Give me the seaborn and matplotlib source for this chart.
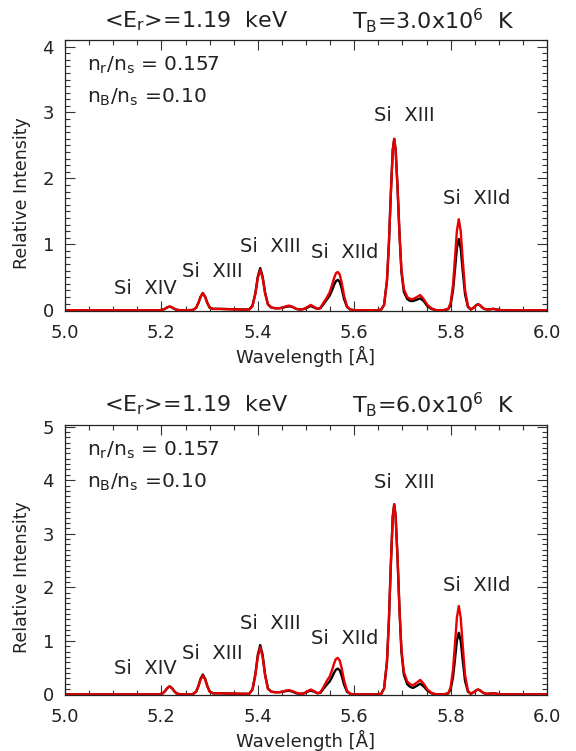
import matplotlib
matplotlib.use("Agg")
import matplotlib.pyplot as plt
import seaborn as sns
import pandas as pd
from matplotlib.ticker import MultipleLocator, FormatStrFormatter

# ---------------- data ----------------
wavelength = [
    5.000, 5.100, 5.190,
    5.196, 5.203, 5.208, 5.212, 5.217, 5.222, 5.226, 5.231, 5.238,
    5.250,
    5.265, 5.272, 5.277, 5.281, 5.286, 5.291, 5.295, 5.300, 5.307,
    5.320, 5.345, 5.370,
    5.382, 5.389, 5.395, 5.400, 5.405, 5.410, 5.415, 5.421, 5.428,
    5.436, 5.445, 5.452, 5.458, 5.465, 5.472, 5.480, 5.488, 5.496, 5.503,
    5.510, 5.517, 5.524, 5.530, 5.536, 5.543, 5.549, 5.554, 5.558, 5.562,
    5.566, 5.570, 5.574, 5.579, 5.585, 5.592, 5.600,
    5.625, 5.650,
    5.656, 5.662, 5.668, 5.672, 5.676, 5.680, 5.683, 5.686, 5.690, 5.694,
    5.698, 5.703, 5.710, 5.716, 5.722, 5.730, 5.737, 5.744, 5.752, 5.760, 5.770,
    5.785,
    5.795, 5.800, 5.805, 5.809, 5.813, 5.817, 5.821, 5.825, 5.830, 5.836, 5.842,
    5.849, 5.853, 5.857, 5.861, 5.865, 5.870, 5.876, 5.883, 5.889, 5.896, 5.905,
    5.950, 6.000,
]

top_black = [
    0, 0, 0,
    0.0, 0.007, 0.024, 0.042, 0.055, 0.042, 0.024, 0.007, 0.0,
    0,
    0.003, 0.035, 0.115, 0.20, 0.26, 0.20, 0.115, 0.04, 0.02,
    0.02, 0.015, 0.01,
    0.01, 0.07, 0.26, 0.51, 0.64, 0.51, 0.27, 0.09, 0.04,
    0.03, 0.03, 0.04, 0.05, 0.06, 0.05, 0.02, 0.01, 0.02, 0.04,
    0.065, 0.04, 0.02, 0.03, 0.09, 0.16, 0.22, 0.30, 0.38, 0.44,
    0.46, 0.43, 0.33, 0.17, 0.05, 0.01, 0.0,
    0, 0,
    0.01, 0.08, 0.45, 1.01, 1.77, 2.43, 2.60, 2.43, 1.85, 1.15,
    0.58, 0.28, 0.17, 0.14, 0.14, 0.16, 0.18, 0.14, 0.06, 0.02, 0.0,
    0,
    0.015, 0.08, 0.30, 0.61, 0.94, 1.08, 0.94, 0.61, 0.24, 0.05, 0.01,
    0.045, 0.075, 0.09, 0.075, 0.045, 0.02, 0.01, 0.015, 0.02, 0.01, 0.0,
    0, 0,
]

top_red = [
    0, 0, 0,
    0.0, 0.007, 0.025, 0.044, 0.058, 0.044, 0.025, 0.007, 0.0,
    0,
    0.003, 0.035, 0.115, 0.20, 0.26, 0.20, 0.115, 0.04, 0.02,
    0.02, 0.015, 0.01,
    0.01, 0.06, 0.25, 0.49, 0.61, 0.49, 0.26, 0.09, 0.04,
    0.03, 0.03, 0.04, 0.06, 0.07, 0.05, 0.02, 0.01, 0.02, 0.05,
    0.08, 0.05, 0.02, 0.04, 0.11, 0.19, 0.27, 0.38, 0.48, 0.56,
    0.58, 0.54, 0.42, 0.22, 0.06, 0.01, 0.0,
    0, 0,
    0.01, 0.08, 0.45, 1.01, 1.77, 2.43, 2.60, 2.43, 1.85, 1.15,
    0.62, 0.32, 0.20, 0.17, 0.17, 0.20, 0.23, 0.17, 0.08, 0.03, 0.0,
    0,
    0.02, 0.11, 0.38, 0.78, 1.20, 1.38, 1.20, 0.78, 0.31, 0.06, 0.01,
    0.045, 0.075, 0.09, 0.075, 0.045, 0.02, 0.01, 0.015, 0.02, 0.01, 0.0,
    0, 0,
]

bot_black = [
    0, 0, 0,
    0.002, 0.02, 0.066, 0.115, 0.15, 0.115, 0.066, 0.02, 0.002,
    0,
    0.004, 0.05, 0.16, 0.285, 0.37, 0.285, 0.165, 0.055, 0.02,
    0.02, 0.015, 0.01,
    0.01, 0.09, 0.38, 0.74, 0.92, 0.74, 0.38, 0.11, 0.05,
    0.04, 0.04, 0.05, 0.06, 0.07, 0.05, 0.02, 0.01, 0.02, 0.05,
    0.07, 0.05, 0.02, 0.03, 0.10, 0.18, 0.24, 0.32, 0.40, 0.46,
    0.48, 0.45, 0.35, 0.18, 0.05, 0.01, 0.0,
    0, 0,
    0.01, 0.11, 0.61, 1.38, 2.42, 3.32, 3.55, 3.32, 2.53, 1.57,
    0.79, 0.37, 0.19, 0.14, 0.12, 0.16, 0.20, 0.15, 0.07, 0.02, 0.0,
    0,
    0.015, 0.09, 0.32, 0.65, 1.00, 1.15, 1.00, 0.65, 0.25, 0.05, 0.01,
    0.045, 0.075, 0.09, 0.075, 0.045, 0.02, 0.01, 0.015, 0.02, 0.01, 0.0,
    0, 0,
]

bot_red = [
    0, 0, 0,
    0.002, 0.02, 0.066, 0.115, 0.15, 0.115, 0.066, 0.02, 0.002,
    0,
    0.004, 0.047, 0.154, 0.27, 0.35, 0.27, 0.155, 0.05, 0.02,
    0.02, 0.015, 0.01,
    0.01, 0.09, 0.36, 0.70, 0.88, 0.70, 0.36, 0.10, 0.05,
    0.04, 0.04, 0.05, 0.07, 0.08, 0.06, 0.03, 0.01, 0.02, 0.06,
    0.09, 0.06, 0.02, 0.04, 0.13, 0.25, 0.33, 0.45, 0.57, 0.66,
    0.68, 0.63, 0.49, 0.26, 0.07, 0.01, 0.0,
    0, 0,
    0.01, 0.11, 0.61, 1.38, 2.42, 3.32, 3.55, 3.32, 2.53, 1.57,
    0.85, 0.42, 0.24, 0.19, 0.17, 0.22, 0.27, 0.20, 0.09, 0.03, 0.0,
    0,
    0.02, 0.13, 0.46, 0.93, 1.43, 1.65, 1.43, 0.93, 0.36, 0.07, 0.01,
    0.045, 0.075, 0.09, 0.075, 0.045, 0.02, 0.01, 0.015, 0.02, 0.01, 0.0,
    0, 0,
]

line_labels = ["Si  XIV", "Si  XIII", "Si  XIII", "Si  XIId", "Si  XIII", "Si  XIId"]
temperatures = ["3.0", "6.0"]
energy_label = r"<E$_\mathrm{r}$>=1.19  keV"
ratio_r = r"n$_\mathrm{r}$/n$_\mathrm{s}$ = 0.157"
ratio_b = r"n$_\mathrm{B}$/n$_\mathrm{s}$ =0.10"

# ---------------- layout (not data) ----------------
label_x = [5.166, 5.305, 5.425, 5.581, 5.705, 5.855]
label_y_top = [0.33, 0.58, 0.97, 0.88, 2.95, 1.69]
label_y_bot = [0.48, 0.76, 1.32, 1.05, 3.95, 2.04]

sns.set_style("ticks")
plt.rcParams["font.family"] = ["DejaVu Sans"]
plt.rcParams["mathtext.fontset"] = "dejavusans"

W, H = 576, 751
fig = plt.figure(figsize=(W / 100, H / 100), dpi=100)
txt = "#222222"

panels = [
    dict(bottom=311, top=40, black=top_black, red=top_red, ylim=(-0.012, 4.1),
         ly=label_y_top, temp=temperatures[0], title_y=21),
    dict(bottom=695, top=425, black=bot_black, red=bot_red, ylim=(-0.012, 5.03),
         ly=label_y_bot, temp=temperatures[1], title_y=405),
]

for p in panels:
    left_px, right_px = 65, 547
    ax = fig.add_axes([left_px / W, 1 - p["bottom"] / H,
                       (right_px - left_px) / W, (p["bottom"] - p["top"]) / H])
    df = pd.DataFrame({"wavelength": wavelength, "black": p["black"], "red": p["red"]})
    sns.lineplot(data=df, x="wavelength", y="black", ax=ax, color="black",
                 lw=1.7, estimator=None, sort=False)
    sns.lineplot(data=df, x="wavelength", y="red", ax=ax, color="#e80000",
                 lw=1.7, estimator=None, sort=False)
    ax.set_xlim(5.0, 6.0)
    ax.set_ylim(*p["ylim"])
    ax.xaxis.set_major_locator(MultipleLocator(0.2))
    ax.xaxis.set_minor_locator(MultipleLocator(0.05))
    ax.xaxis.set_major_formatter(FormatStrFormatter("%.1f"))
    ax.yaxis.set_major_locator(MultipleLocator(1))
    ax.yaxis.set_minor_locator(MultipleLocator(0.1))
    ax.yaxis.set_major_formatter(FormatStrFormatter("%d"))
    ax.tick_params(which="both", direction="in", top=True, right=True,
                   colors="#333333", labelcolor=txt, width=0.8)
    ax.tick_params(which="major", length=7, labelsize=13)
    ax.tick_params(which="minor", length=3.5)
    ax.tick_params(axis="x", which="major", pad=9)
    ax.tick_params(axis="y", which="major", pad=8)
    for s in ax.spines.values():
        s.set_color("#222222")
        s.set_linewidth(0.9)
    ax.set_xlabel("Wavelength [Å]", fontsize=13, color=txt, labelpad=3)
    ax.set_ylabel("Relative Intensity", fontsize=12.5, color=txt)
    ax.yaxis.set_label_coords(-0.07, 0.435)
    for t, x, y in zip(line_labels, label_x, p["ly"]):
        ax.text(x, y, t, fontsize=14, color=txt, ha="center", va="center")
    ax.text(0.046, 0.905, ratio_r, transform=ax.transAxes, fontsize=14.5,
            color=txt, ha="left", va="center")
    ax.text(0.046, 0.787, ratio_b, transform=ax.transAxes, fontsize=14.5,
            color=txt, ha="left", va="center")
    ty = 1 - p["title_y"] / H
    fig.text(196 / W, ty, energy_label, fontsize=16, color=txt, ha="center", va="center")
    fig.text(433 / W, ty, r"T$_\mathrm{B}$=" + p["temp"] + r"x10$^\mathrm{6}$  K",
             fontsize=16, color=txt, ha="center", va="center")

fig.savefig("out.png", dpi=100)
